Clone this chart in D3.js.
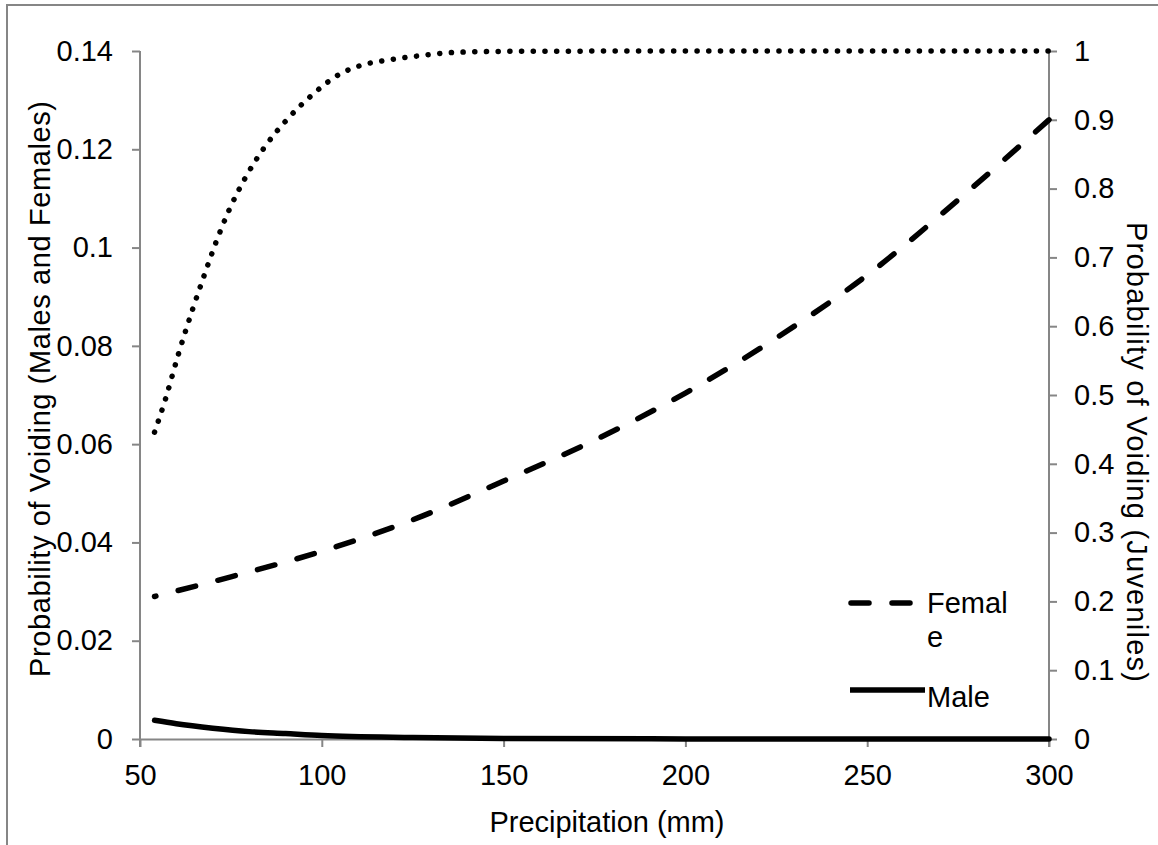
<!DOCTYPE html>
<html>
<head>
<meta charset="utf-8">
<script src="https://cdn.jsdelivr.net/npm/d3@7"></script>
<style>
  html, body { margin: 0; padding: 0; background: #fff; }
  svg text { font-family: "Liberation Sans", Arial, sans-serif; fill: #000; }
</style>
</head>
<body>
<div id="chart"></div>
<script>
// values
const precipFemale = [54, 75, 100, 125, 150, 175, 200, 225, 250, 275, 300];
const femaleProb   = [0.029, 0.033, 0.0382, 0.0446, 0.0525, 0.0608, 0.0704, 0.0816, 0.0944, 0.1097, 0.126];

const precipMale = [54, 60, 70, 80, 90, 100, 125, 150, 200, 250, 300];
const maleProb   = [0.0038, 0.0031, 0.0022, 0.0015, 0.0011, 0.0007, 0.0003, 0.0001, 0.00002, 0, 0];

const precipJuv = [54, 57, 60.6, 64.5, 67.6, 70.9, 74.6, 79, 84.1, 90.2, 97.1, 104.8, 110.7, 117.2, 126.8, 136.5, 152.5, 200, 250, 300];
const juvProb   = [0.446, 0.494, 0.56, 0.625, 0.673, 0.722, 0.77, 0.816, 0.859, 0.899, 0.935, 0.966, 0.979, 0.986, 0.993, 0.998, 0.9995, 1, 1, 1];

const xTicks = [50, 100, 150, 200, 250, 300];
const leftTicks = [0, 0.02, 0.04, 0.06, 0.08, 0.1, 0.12, 0.14];
const rightTicks = [0, 0.1, 0.2, 0.3, 0.4, 0.5, 0.6, 0.7, 0.8, 0.9, 1];

(function () {
  const W = 1158, H = 845;
  const left = 140, right = 1049, top = 51, bottom = 739;
  const axisColor = "#868686";
  const fs = 29;

  const svg = d3.select("#chart").append("svg")
    .attr("width", W)
    .attr("height", H);

  // outer chart border (only top and left visible)
  svg.append("path")
    .attr("d", `M7,${H} L7,5 L${W},5`)
    .attr("fill", "none")
    .attr("stroke", axisColor)
    .attr("stroke-width", 2);

  const x = d3.scaleLinear().domain([50, 300]).range([left, right]);
  const yL = d3.scaleLinear().domain([0, 0.14]).range([bottom, top]);
  const yR = d3.scaleLinear().domain([0, 1]).range([bottom, top]);

  // axes
  const styleAxis = g => {
    g.select(".domain").attr("stroke", axisColor).attr("stroke-width", 2);
    g.selectAll(".tick line").attr("stroke", axisColor).attr("stroke-width", 2);
    g.selectAll(".tick text").attr("font-size", fs).attr("fill", "#000");
  };

  svg.append("g")
    .attr("transform", `translate(0,${bottom})`)
    .call(d3.axisBottom(x).tickValues(xTicks).tickSize(8).tickSizeOuter(0).tickPadding(17))
    .call(styleAxis);

  svg.append("g")
    .attr("transform", `translate(${left},0)`)
    .call(d3.axisLeft(yL).tickValues(leftTicks).tickFormat(d => d3.format("")(+d.toFixed(2))).tickSize(8).tickSizeOuter(0).tickPadding(19))
    .call(styleAxis)
    .call(g => g.select(".domain").remove());

  svg.append("line")
    .attr("x1", left).attr("x2", left)
    .attr("y1", top).attr("y2", bottom + 8)
    .attr("stroke", axisColor).attr("stroke-width", 2);

  svg.append("g")
    .attr("transform", `translate(${right},0)`)
    .call(d3.axisRight(yR).tickValues(rightTicks).tickFormat(d => d3.format("")(+d.toFixed(1))).tickSize(8).tickSizeOuter(0).tickPadding(17))
    .call(styleAxis)
    .call(g => g.select(".domain").remove());

  svg.append("line")
    .attr("x1", right).attr("x2", right)
    .attr("y1", top).attr("y2", bottom + 8)
    .attr("stroke", axisColor).attr("stroke-width", 2);

  // series
  const lineL = d3.line().x(d => x(d[0])).y(d => yL(d[1])).curve(d3.curveMonotoneX);
  const lineR = d3.line().x(d => x(d[0])).y(d => yR(d[1])).curve(d3.curveMonotoneX);

  svg.append("path")
    .datum(d3.zip(precipJuv, juvProb))
    .attr("d", lineR)
    .attr("fill", "none")
    .attr("stroke", "#000")
    .attr("stroke-width", 5.5)
    .attr("stroke-linecap", "round")
    .attr("stroke-dasharray", "0.1,11.6");

  const fem = svg.append("path")
    .datum(d3.zip(precipFemale, femaleProb))
    .attr("d", lineL)
    .attr("fill", "none")
    .attr("stroke", "#000")
    .attr("stroke-width", 5.5)
    .attr("stroke-linecap", "round")
    .attr("stroke-dasharray", "18,23");
  // shift the pattern so the line ends on a full dash, as in the original
  const len = fem.node().getTotalLength();
  fem.attr("stroke-dashoffset", ((18 - len) % 41 + 41) % 41);

  svg.append("path")
    .datum(d3.zip(precipMale, maleProb))
    .attr("d", lineL)
    .attr("fill", "none")
    .attr("stroke", "#000")
    .attr("stroke-width", 5.5)
    .attr("stroke-linecap", "round");

  // axis titles
  svg.append("text")
    .attr("x", 607)
    .attr("y", 832)
    .attr("text-anchor", "middle")
    .attr("font-size", fs)
    .attr("textLength", 235)
    .attr("lengthAdjust", "spacing")
    .text("Precipitation (mm)");

  svg.append("text")
    .attr("transform", "translate(50,389) rotate(-90)")
    .attr("text-anchor", "middle")
    .attr("font-size", fs)
    .attr("textLength", 576)
    .attr("lengthAdjust", "spacing")
    .text("Probability of Voiding (Males and Females)");

  svg.append("text")
    .attr("transform", "translate(1127,452) rotate(90)")
    .attr("text-anchor", "middle")
    .attr("font-size", fs)
    .attr("textLength", 460)
    .attr("lengthAdjust", "spacing")
    .text("Probability of Voiding (Juveniles)");

  // legend
  const lg = svg.append("g");
  lg.append("line")
    .attr("x1", 851).attr("x2", 910)
    .attr("y1", 603).attr("y2", 603)
    .attr("stroke", "#000").attr("stroke-width", 5.5)
    .attr("stroke-linecap", "round")
    .attr("stroke-dasharray", "18,23");
  const ft = lg.append("text")
    .attr("x", 927).attr("y", 613)
    .attr("font-size", fs);
  ft.append("tspan").attr("x", 927).text("Femal");
  ft.append("tspan").attr("x", 927).attr("dy", 34).text("e");

  lg.append("line")
    .attr("x1", 850).attr("x2", 925)
    .attr("y1", 690).attr("y2", 690)
    .attr("stroke", "#000").attr("stroke-width", 5.5);
  lg.append("text")
    .attr("x", 927).attr("y", 707)
    .attr("font-size", fs)
    .text("Male");
})();
</script>
</body>
</html>
